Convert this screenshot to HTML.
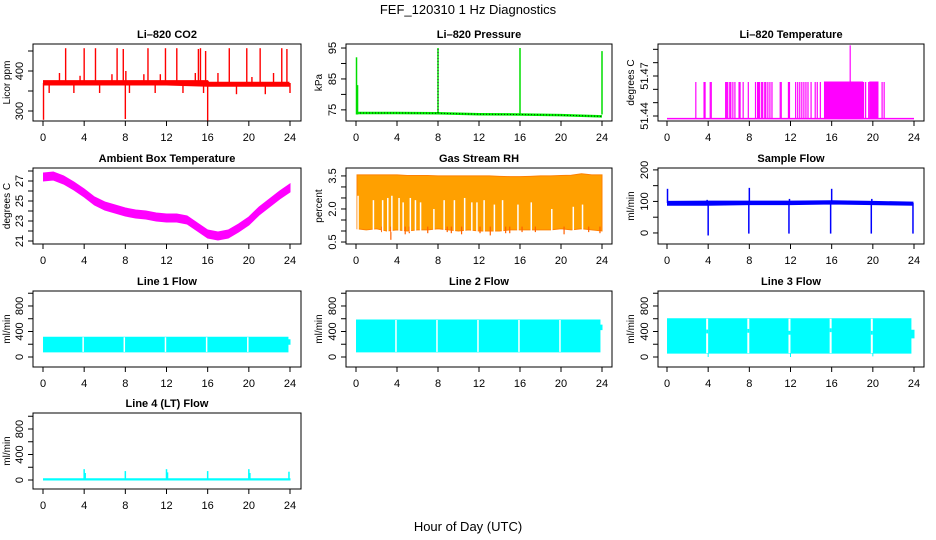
<!DOCTYPE html>
<html><head><meta charset="utf-8"><style>
html,body{margin:0;padding:0;background:#fff;}
svg{display:block;font-family:"Liberation Sans",Arial,sans-serif;}
</style></head><body>
<svg id="chart" width="936" height="540" viewBox="0 0 936 540">
<text x="468" y="14" text-anchor="middle" font-size="13">FEF_120310  1 Hz Diagnostics</text>
<text x="468" y="531" text-anchor="middle" font-size="13">Hour of Day (UTC)</text>
</svg>
<script>
// ---- data arrays ----
const xTicks = [0,4,8,12,16,20,24];
// CO2
const co2BaseHours = [0.05,4,8,12,16,16.1,20,23.9];
const co2BaseLow = [365,365,365,365,362,362,362,362];
const co2BaseHigh = [376,376,376,376,376,372,372,372];
const co2SpikeHours = [2.2,4.0,5.1,7.2,7.8,10.2,11.9,13.0,15.1,15.3,15.8,18.1,19.8,21.1,23.2,23.7,1.6,3.6,6.7,8.05,9.8,11.4,14.8,17.0,20.3,22.4,0.05,8.0,16.0,0.6,3.0,5.5,8.4,10.9,13.6,15.6,18.8,21.6,24.0];
const co2SpikeValues = [457,457,457,457,455,457,457,457,455,457,450,457,457,457,457,455,395,388,392,400,392,392,395,395,385,395,278,280,275,345,345,345,345,345,345,345,342,342,345];
// Pressure
const presHours = [0.1,4,8,12,16,20,24];
const presValues = [74.0,74.0,73.9,73.6,73.5,73.3,72.9];
const presSpikeHours = [0.05,0.15,8.0,16.0,24.0];
const presSpikeValues = [92,83,95,95,94];
// Li-820 temperature
const tempBase = 51.438;
const tempSpikeHours = [2.8,3.6,3.7,4.2,4.3,5.7,5.8,5.9,6.1,6.2,6.4,6.6,7.0,7.1,7.4,7.9,8.6,8.8,8.9,9.0,9.2,9.3,9.5,9.6,9.8,10.0,10.2,11.0,11.1,11.8,11.9,12.5,12.7,12.9,13.1,13.3,13.5,13.7,14.0,14.4,14.6,14.9,19.1,19.3,19.6,20.0,20.4,20.9,21.1];
const tempSpikeValue = 51.4655;
const tempDenseStart = [15.3,16.6,19.7];
const tempDenseEnd = [19.0,19.0,20.5];
const tempBigSpikeHour = [17.8];
const tempBigSpikeValue = [51.493];
// Ambient box temperature
const ambHours = [0.05,1,2,3,4,5,6,7,8,9,10,11,12,13,14,15,16,17,18,19,20,21,22,23,24];
const ambValues = [27.4,27.5,27.1,26.5,25.8,25.0,24.5,24.2,23.9,23.7,23.6,23.4,23.3,23.3,23.1,22.4,21.7,21.5,21.7,22.3,23.0,24.0,24.8,25.6,26.3];
// Gas stream RH
const rhHours = [0.1,1,2,3,4,5,6,7,8,9,10,11,12,13,14,15,16,17,18,19,20,21,22,23,24];
const rhHigh = [3.55,3.55,3.55,3.55,3.55,3.52,3.52,3.52,3.5,3.5,3.5,3.5,3.5,3.5,3.48,3.47,3.47,3.48,3.5,3.5,3.52,3.53,3.6,3.55,3.55];
const rhLow = [1.1,1.05,1.1,1.0,1.05,1.0,1.05,1.05,1.1,1.05,1.0,1.05,1.0,1.0,1.0,1.05,1.05,1.05,1.05,1.05,1.1,1.05,1.1,1.05,1.0];
const rhDipHours = [0.3,2.5,3.4,4.8,5.2,7.0,8.9,9.3,10.3,12.1,13.1,14.6,15.0,16.2,17.5,20.3,22.7,23.8];
const rhDipValues = [1.2,0.95,0.6,0.85,0.9,0.9,0.95,0.9,0.85,0.9,0.8,0.9,0.9,0.95,0.95,0.85,0.95,0.9];
const rhGapHours = [0.2,1.7,2.6,3.1,3.5,4.2,4.6,5.3,5.8,6.3,7.6,8.6,9.6,10.6,11.3,11.8,12.5,13.5,14.3,15.8,17.1,19.1,21.2,22.1];
const rhGapTops = [2.6,2.4,2.4,2.5,2.6,2.5,2.3,2.5,2.4,2.3,2.0,2.4,2.4,2.5,2.3,2.3,2.4,2.2,2.4,2.2,2.3,2.0,2.1,2.2];
// Sample flow
const sfHours = [0.05,4,8,12,16,20,23.9];
const sfLow = [88,88,90,90,92,90,88];
const sfHigh = [100,101,101,101,102,100,98];
const sfSpikeHours = [0.05,8.0,16.0,11.9,19.9,3.9];
const sfSpikeValues = [140,143,140,108,108,105];
const sfDipHours = [4.0,7.95,11.85,15.9,19.85,23.9];
const sfDipValues = [-8,-2,-2,-2,-2,-2];
// Line flows
const flowGapHours = [3.9,7.9,11.9,15.9,19.9];
const l1Low = 80, l1High = 310;
const l1EndLow = [200], l1EndHigh = [270];
const l2Low = 80, l2High = 580;
const l2EndLow = [430], l2EndHigh = [500];
const l3Low = 60, l3High = 600;
const l3GapValues = [400,410,380,420,380];
const l3DipHours = [4.0,12.0,20.0];
const l3DipValues = [0,0,10];
const l4Low = 0, l4High = 20;
const l4SpikeHours = [4.0,4.1,8.0,12.0,12.1,16.0,20.0,20.1,23.9];
const l4SpikeValues = [170,110,140,170,120,140,170,110,130];

// ---- layout ----
const svg = document.getElementById('chart');
const NS = 'http://www.w3.org/2000/svg';
function el(tag, attrs, parent){ const e=document.createElementNS(NS,tag); for(const k in attrs) e.setAttribute(k,attrs[k]); (parent||svg).appendChild(e); return e; }
const cols = [{l:33,r:301,x0:43,x24:290,ylabX:10},{l:346,r:612,x0:356,x24:602,ylabX:322},{l:658,r:924,x0:667,x24:914,ylabX:634}];
const rows = [{t:44,b:121},{t:168,b:244},{t:291,b:367},{t:413,b:489}];

function panel(name, title, ylab, col, row, yMin, yMax, yTicks, yLabels){
  const c=cols[col], r=rows[row];
  const g = el('g',{});
  
  
  const p = {g, c, r,
    x: h => c.x0 + h*(c.x24-c.x0)/24,
    y: v => r.b - (v-yMin)*(r.b-r.t)/(yMax-yMin)};
  const plot = el('g',{},g);
  
  
  p.plot = plot;
  p.finish = function(){
    const box = el('rect',{x:c.l,y:r.t,width:c.r-c.l,height:r.b-r.t,fill:'none',stroke:'#000','stroke-width':1},g);
    
    
    const tt = el('text',{x:(c.l+c.r)/2,y:r.t-6,'text-anchor':'middle','font-size':11,'font-weight':'bold'},g);
    tt.textContent = title;
    
    
    const xa = el('g',{},g);
    
    
    xTicks.forEach(t=>{
      const px=p.x(t);
      el('line',{x1:px,x2:px,y1:r.b,y2:r.b+5,stroke:'#000'},xa);
      const lt=el('text',{x:px,y:r.b+20,'text-anchor':'middle','font-size':11},xa);
      lt.textContent=String(t);
    });
    const ya = el('g',{},g);
    
    
    yTicks.forEach(t=>{
      const py=p.y(t);
      el('line',{x1:c.l-5,x2:c.l,y1:py,y2:py,stroke:'#000'},ya);
    });
    yLabels.forEach(t=>{
      const py=p.y(parseFloat(t));
      const lt=el('text',{x:c.l-10,y:py,'text-anchor':'middle','font-size':11,transform:`rotate(-90 ${c.l-10} ${py})`},ya);
      lt.textContent=t;
    });
    const yt=el('text',{x:c.ylabX,y:(r.t+r.b)/2,'text-anchor':'middle','font-size':10,transform:`rotate(-90 ${c.ylabX} ${(r.t+r.b)/2})`},g);
    yt.textContent=ylab;
    
    
  };
  return p;
}
function band(p, hours, lo, hi, fill, stroke){
  let pts=[];
  hours.forEach((h,i)=>pts.push(p.x(h)+','+p.y(hi[i])));
  for(let i=hours.length-1;i>=0;i--) pts.push(p.x(hours[i])+','+p.y(lo[i]));
  el('polygon',{points:pts.join(' '),fill:fill,stroke:stroke||fill,'stroke-width':1},p.plot);
}
function vline(p,h,v1,v2,color,w,dash){
  const a={x1:p.x(h),x2:p.x(h),y1:p.y(v1),y2:p.y(v2),stroke:color,'stroke-width':w||1.2};
  if(dash) a['stroke-dasharray']=dash;
  el('line',a,p.plot);
}

// CO2
let p = panel('co2','Li\u2013820 CO2','Licor ppm',0,0,275,467.5,[300,350,400,450],['300','400']);
band(p,co2BaseHours,co2BaseLow,co2BaseHigh,'#ff0000');
co2SpikeHours.forEach((h,i)=>vline(p,h,370,co2SpikeValues[i],'#ff0000',1.4));
p.finish();

// Pressure
p = panel('pressure','Li\u2013820 Pressure','kPa',1,0,71.4,96.3,[75,80,85,90,95],['75','85','95']);
const presPts = presHours.map((h,i)=>p.x(h)+','+p.y(presValues[i])).join(' ');
el('polyline',{points:presPts,fill:'none',stroke:'#00ee00','stroke-width':2.5},p.plot);
el('polyline',{points:presPts,fill:'none',stroke:'#003300','stroke-width':1,'stroke-dasharray':'1 2'},p.plot);
presSpikeHours.forEach((h,i)=>vline(p,h,presValues[0]-0.5,presSpikeValues[i],'#00dd00',1.5));
vline(p,presSpikeHours[2],presValues[0],presSpikeValues[2],'#003300',1,'1 2');
p.finish();

// Li-820 temperature
p = panel('li820-temp','Li\u2013820 Temperature','degrees C',2,0,51.43625,51.494,[51.44,51.45,51.46,51.47,51.48,51.49],['51.44','51.47']);
el('line',{x1:p.x(0),x2:p.x(24),y1:p.y(tempBase),y2:p.y(tempBase),stroke:'#ff00ff','stroke-width':1.5},p.plot);
tempSpikeHours.forEach(h=>vline(p,h,tempBase,tempSpikeValue,'#ff00ff',1.2));
tempDenseStart.forEach((s,i)=>band(p,[s,tempDenseEnd[i]],[tempBase,tempBase],[tempSpikeValue,tempSpikeValue],'#ff00ff'));
tempBigSpikeHour.forEach((h,i)=>vline(p,h,tempBase,tempBigSpikeValue[i],'#ff00ff',1.2));
p.finish();

// Ambient
p = panel('ambient-temp','Ambient Box Temperature','degrees C',0,1,20.7,28.3,[21,22,23,24,25,26,27,28],['21','23','25','27']);
band(p,ambHours,ambValues.map(v=>v-0.4),ambValues.map(v=>v+0.4),'#ff00ff');
p.finish();

// RH
p = panel('gas-rh','Gas Stream RH','percent',1,1,0.41,3.86,[0.5,1,1.5,2,2.5,3,3.5],['0.5','2.0','3.5']);
band(p,rhHours,rhLow,rhHigh,'#ffa000','#ff8000');
rhDipHours.forEach((h,i)=>vline(p,h,1.2,rhDipValues[i],'#ff6000',1.2));
rhGapHours.forEach((h,i)=>vline(p,h,0.95,rhGapTops[i],'#ffffff',1.5));
p.finish();

// Sample flow
p = panel('sample-flow','Sample Flow','ml/min',2,1,-35,206,[0,50,100,150,200],['0','100','200']);
band(p,sfHours,sfLow,sfHigh,'#0000ff');
sfSpikeHours.forEach((h,i)=>vline(p,h,95,sfSpikeValues[i],'#0000ff',1.5));
sfDipHours.forEach((h,i)=>vline(p,h,95,sfDipValues[i],'#0000ff',1.5));
p.finish();

const flowTicks=[0,200,400,600,800,1000], flowLabels=['0','400','800'];
// Line 1
p = panel('line1-flow','Line 1 Flow','ml/min',0,2,-157,1035,flowTicks,flowLabels);
band(p,[0.05,23.8],[l1Low,l1Low],[l1High,l1High],'#00ffff');
flowGapHours.forEach(h=>vline(p,h,l1Low,l1High,'#ffffff',1.5));
band(p,[23.85,24],l1EndLow.concat(l1EndLow),l1EndHigh.concat(l1EndHigh),'#00ffff');
p.finish();
// Line 2
p = panel('line2-flow','Line 2 Flow','ml/min',1,2,-157,1035,flowTicks,flowLabels);
band(p,[0.05,23.8],[l2Low,l2Low],[l2High,l2High],'#00ffff');
flowGapHours.forEach(h=>vline(p,h,l2Low,l2High,'#ffffff',1.5));
band(p,[23.85,24],l2EndLow.concat(l2EndLow),l2EndHigh.concat(l2EndHigh),'#00ffff');
p.finish();
// Line 3
p = panel('line3-flow','Line 3 Flow','ml/min',2,2,-157,1035,flowTicks,flowLabels);
band(p,[0.05,23.7],[l3Low,l3Low],[l3High,l3High],'#00ffff');
flowGapHours.forEach((h,i)=>{ vline(p,h,l3Low,l3High,'#ffffff',2); vline(p,h,l3GapValues[i]-30,l3GapValues[i]+30,'#00ffff',2); });
l3DipHours.forEach((h,i)=>vline(p,h,l3Low,l3DipValues[i],'#00ffff',1));
band(p,[23.75,24],[300,300],[420,420],'#00ffff');
p.finish();
// Line 4
p = panel('line4-flow','Line 4 (LT) Flow','ml/min',0,3,-141,1051,flowTicks,flowLabels);
band(p,[0.05,24],[l4Low,l4Low],[l4High,l4High],'#00ffff');
l4SpikeHours.forEach((h,i)=>vline(p,h,l4High,l4SpikeValues[i],'#00ffff',1.5));
p.finish();
</script>
</body></html>
